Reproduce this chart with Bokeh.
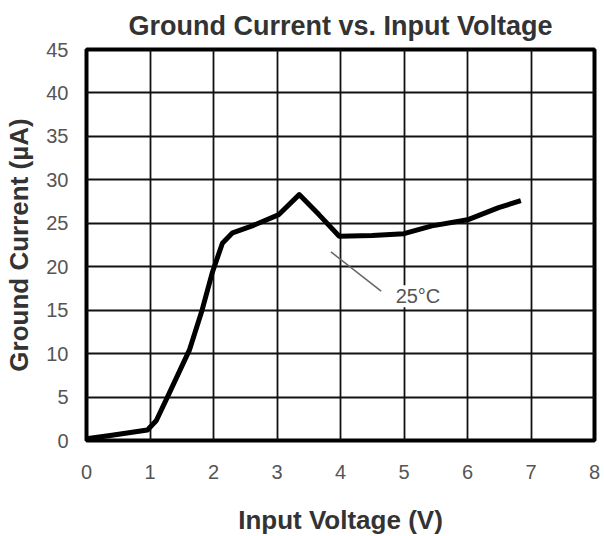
from bokeh.plotting import figure
from bokeh.models import Range1d, FixedTicker, Label
from bokeh.embed import file_html
from bokeh.resources import INLINE

# Data (25 °C curve)
voltage = [0.0, 0.4, 0.96, 1.1, 1.3, 1.62, 1.82, 1.98, 2.14, 2.3, 2.61, 3.03, 3.35, 3.66, 3.98, 4.5, 5.0, 5.44, 6.0, 6.49, 6.84]
current = [0.2, 0.6, 1.2, 2.3, 5.4, 10.4, 15.0, 19.3, 22.7, 23.9, 24.7, 26.0, 28.3, 26.0, 23.5, 23.6, 23.8, 24.7, 25.4, 26.8, 27.6]

x_ticks = [0, 1, 2, 3, 4, 5, 6, 7, 8]
y_ticks = [0, 5, 10, 15, 20, 25, 30, 35, 40, 45]

pointer_x = [3.85, 4.64]
pointer_y = [21.7, 17.2]
label_text = "25°C"
label_pos = (5.22, 16.6)

FONT = "Liberation Sans"

p = figure(frame_width=508, frame_height=391, output_backend="svg", toolbar_location=None,
           x_range=Range1d(0, 8), y_range=Range1d(0, 45),
           min_border_left=86, min_border_right=8, min_border_top=47, min_border_bottom=96,
           title="Ground Current vs. Input Voltage")

p.title.align = "center"
p.title.text_font = FONT
p.title.text_font_size = "27px"
p.title.text_font_style = "bold"
p.title.text_color = "#333333"
p.title.standoff = 17

p.outline_line_color = "black"
p.outline_line_width = 4
p.background_fill_color = "white"

p.xaxis.ticker = FixedTicker(ticks=x_ticks)
p.yaxis.ticker = FixedTicker(ticks=y_ticks)

for ax in (p.xaxis[0], p.yaxis[0]):
    ax.axis_line_color = None
    ax.major_tick_line_color = None
    ax.minor_tick_line_color = None
    ax.major_tick_in = 0
    ax.major_tick_out = 0
    ax.minor_tick_in = 0
    ax.minor_tick_out = 0
    ax.major_label_text_font = FONT
    ax.major_label_text_font_size = "20px"
    ax.major_label_text_color = "#555555"
    ax.axis_label_text_font = FONT
    ax.axis_label_text_font_size = "26px"
    ax.axis_label_text_font_style = "bold"
    ax.axis_label_text_color = "#333333"

p.xaxis.axis_label = "Input Voltage (V)"
p.yaxis.axis_label = "Ground Current (µA)"
p.xaxis.major_label_standoff = 24
p.xaxis.axis_label_standoff = 23
p.yaxis.major_label_standoff = 18
p.yaxis.axis_label_standoff = 9

p.xgrid.grid_line_color = "#111111"
p.ygrid.grid_line_color = "#111111"
p.xgrid.grid_line_width = 1.8
p.ygrid.grid_line_width = 1.8

p.line(pointer_x, pointer_y, line_color="#666666", line_width=1.5)
p.line(voltage, current, line_color="black", line_width=5, line_join="round")

p.add_layout(Label(x=label_pos[0], y=label_pos[1], text=label_text,
                   text_font=FONT, text_font_size="20px", text_color="#555555",
                   text_align="center", text_baseline="middle",
                   background_fill_color="white", background_fill_alpha=1.0))

open("out.html", "w").write(file_html(p, INLINE))
